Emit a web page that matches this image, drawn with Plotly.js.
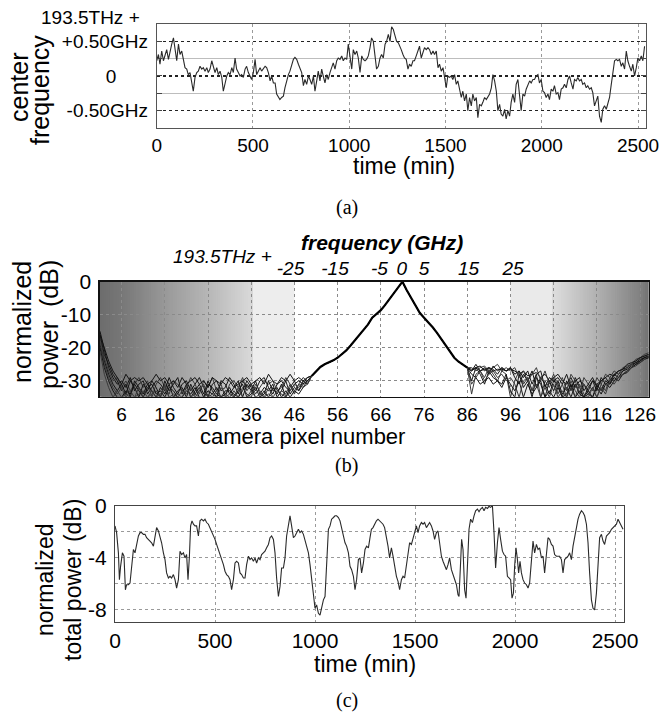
<!DOCTYPE html>
<html>
<head>
<meta charset="utf-8">
<script src="https://cdn.plot.ly/plotly-3.0.1.min.js"></script>
<style>html,body{margin:0;padding:0;background:#fff;}#chart{width:664px;height:717px;}</style>
</head>
<body>
<div id="chart"></div>
<script>
// ---------- (a) center frequency vs time ----------
const timeA = [0,9,17,26,35,43,52,61,69,78,
87,95,104,113,121,130,138,147,156,164,
173,182,190,199,208,216,225,234,242,251,
260,268,277,286,294,303,312,320,329,338,
346,355,364,372,381,390,398,407,415,424,
433,441,450,459,467,476,485,493,502,511,
519,528,537,545,554,563,571,580,589,597,
606,615,623,632,640,649,658,666,675,684,
692,701,710,718,727,736,744,753,762,770,
779,788,796,805,814,822,831,839,848,857,
865,874,883,891,900,909,917,926,935,943,
952,961,969,978,987,995,1004,1013,1021,1030,
1039,1047,1056,1065,1073,1082,1090,1099,1108,1116,
1125,1134,1142,1151,1160,1168,1177,1186,1194,1203,
1212,1220,1229,1238,1246,1255,1264,
1270,1279,1287,1296,1305,1313,1322,1331,1339,1348,
1357,1365,1374,1383,1391,1400,1409,1417,1426,1435,
1443,1452,1461,1469,1478,1487,1495,1504,1512,1521,
1530,1538,1547,1556,1564,1573,1582,1590,1599,1608,
1616,1625,1634,1642,1651,1660,1668,1677,1686,1694,
1703,1712,1720,1729,1738,1746,1755,1764,1772,1781,
1789,1798,1807,1815,1824,1833,1841,1850,1859,1867,
1876,1885,1893,1902,1911,1919,1928,1937,1945,1954,
1962,1971,1980,1988,1997,2006,2014,2023,2032,2040,
2049,2058,2066,2075,2084,2092,2101,2110,2118,2127,
2136,2144,2153,2162,2170,2179,2187,2196,2205,2213,
2222,2231,2239,2248,2257,2265,2274,2283,2291,2300,
2309,2317,2326,2335,2343,2352,2361,2369,2378,2387,
2395,2404,2413,2421,2430,2439,2447,2456,2465,2473,
2482,2491,2499,2508,2517,2525,2534];
const centerFreqGHz = [0.22,0.31,0.17,0.36,0.22,0.29,0.38,0.24,0.36,0.46,
0.55,0.41,0.22,0.46,0.31,0.36,0.22,0.12,0.10,0.02,
0.05,-0.07,-0.22,-0.02,0.05,0.07,0.14,0.10,0.12,0.07,
0.12,0.05,0.10,0.22,0.14,0.05,0.12,0.02,0.07,-0.02,
-0.22,-0.10,0,0.05,0.02,0.12,0.05,0.26,0.10,0.05,
0,0.02,-0.02,0.10,0.14,0.05,0,-0.05,0.05,0.24,
0.02,0.07,0.12,0.07,0.10,0.14,0.12,0.05,-0.07,0,
-0.10,-0.10,-0.26,-0.31,-0.34,-0.31,-0.29,-0.17,-0.05,0.02,
0.07,0.17,0.24,0.27,0.24,0.17,0.12,0.05,-0.14,-0.05,
-0.12,0,-0.05,-0.12,0,-0.22,-0.07,0.07,-0.07,0.10,
0,-0.10,0.02,-0.05,0.05,0.12,0.19,0.10,0.22,0.26,
0.24,0.29,0.22,0.26,0.24,0.46,0.31,0.10,0.38,0.31,
0.36,0.26,0.05,0.29,0.24,0.22,0.24,0.29,0.41,0.55,
0.50,0.26,0.10,0.14,0.26,0.31,0.26,0.46,0.50,0.60,
0.50,0.71,0.67,0.58,0.50,0.48,0.43,
0.38,0.31,0.26,0.24,0.10,0.17,0.14,0.22,0.22,0.29,
0.36,0.43,0.26,0.36,0.41,0.38,0.41,0.38,0.31,0.36,
0.31,0.36,0.12,0.17,0.07,0.12,0,-0.17,0,-0.02,
0,-0.05,0.02,-0.12,-0.07,-0.22,-0.31,-0.22,-0.36,-0.26,
-0.50,-0.31,-0.43,-0.26,-0.36,-0.31,-0.60,-0.41,-0.43,-0.38,
-0.31,-0.34,-0.29,-0.26,-0.17,0.02,-0.07,-0.22,-0.50,-0.41,
-0.55,-0.58,-0.48,-0.62,-0.50,-0.58,-0.38,-0.26,-0.38,-0.12,
-0.05,-0.29,-0.50,-0.26,-0.29,-0.19,-0.14,-0.07,-0.10,-0.05,
-0.05,0,0.02,-0.10,-0.05,-0.22,-0.24,-0.31,-0.26,-0.34,
-0.19,-0.22,-0.14,-0.26,-0.24,-0.34,-0.19,-0.17,-0.12,-0.17,
-0.05,0,-0.10,-0.19,-0.05,-0.07,-0.02,-0.07,-0.05,-0.12,
-0.10,-0.17,-0.14,-0.19,-0.17,-0.24,-0.43,-0.36,-0.29,-0.58,
-0.67,-0.48,-0.43,-0.48,-0.41,-0.31,-0.12,0.02,0.22,0.24,
0.22,0.24,0.14,0.19,0.10,0.36,0.22,0.14,0.07,0.17,
0,0.12,0.26,0.22,0.29,0.22,0.43];

// ---------- (b) spectra vs camera pixel ----------
const cameraPixel = [1,2,3,4,5,6,7,8,9,10,11,12,13,14,15,16,17,18,19,20,
21,22,23,24,25,26,27,28,29,30,31,32,33,34,35,36,37,38,39,40,
41,42,43,44,45,46,47,48,49,50,51,52,53,54,55,56,57,58,59,60,
61,62,63,64,65,66,67,68,69,70,71,72,73,74,75,76,77,78,79,80,
81,82,83,84,85,86,87,88,89,90,91,92,93,94,95,96,97,98,99,100,
101,102,103,104,105,106,107,108,109,110,111,112,113,114,115,116,117,118,119,120,
121,122,123,124,125,126,127,128];
const pixelTicks = [6,16,26,36,46,56,66,76,86,96,106,116,126];
const freqTicks = [-25,-15,-5,0,5,15,25];
const freqTickText = ['-25','-15','-5','0','5','15','25'];
const powerTicks = [0,-10,-20,-30];
const powerTickText = ['0','-10','-20','-30'];
// left floor, pixels 1..49
const leftFloor = [
[-15,-21,-26,-29,-31,-30,-32,-29,-33,-31, -30,-34,-32,-30,-31,-33,-29,-32,-34,-31, -30,-33,-31,-29,-32,-35,-31,-30,-33,-32, -29,-31,-34,-30,-32,-31,-33,-30,-29,-32, -34,-31,-30,-32,-33,-31,-30,-31,-29],
[-17,-23,-27,-30,-29,-32,-30,-33,-31,-29, -32,-30,-35,-31,-29,-32,-34,-30,-31,-33, -32,-29,-31,-34,-30,-32,-29,-33,-31,-35, -31,-30,-32,-29,-33,-31,-34,-32,-30,-31, -30,-33,-32,-29,-31,-34,-31,-29,-30],
[-19,-24,-28,-31,-33,-31,-34,-30,-32,-35, -31,-33,-30,-32,-35,-30,-33,-31,-29,-34, -31,-35,-33,-31,-34,-30,-33,-35,-30,-31, -34,-32,-30,-35,-31,-33,-30,-34,-32,-33, -31,-35,-33,-30,-34,-32,-33,-30,-31],
[-16,-22,-25,-28,-30,-33,-31,-35,-30,-32, -34,-31,-33,-35,-32,-34,-31,-35,-33,-32, -35,-31,-34,-32,-35,-33,-34,-32,-35,-34, -32,-35,-33,-31,-35,-34,-32,-35,-33,-35, -32,-34,-31,-35,-32,-30,-33,-31,-30],
[-18,-25,-29,-32,-34,-32,-35,-33,-35,-34, -33,-35,-34,-33,-35,-31,-35,-34,-35,-33, -34,-32,-35,-33,-31,-35,-34,-35,-32,-34, -35,-33,-35,-32,-34,-35,-31,-33,-35,-34, -35,-33,-34,-35,-33,-31,-32,-30,-31],
[-20,-26,-30,-33,-35,-35,-33,-34,-31,-33, -35,-32,-31,-34,-33,-35,-32,-33,-35,-35, -33,-34,-32,-35,-35,-31,-32,-34,-35,-33, -33,-34,-35,-33,-30,-32,-35,-35,-34,-30, -33,-32,-35,-33,-35,-33,-34,-32,-30],
[-16,-20,-24,-27,-29,-31,-28,-30,-29,-30, -29,-31,-30,-28,-30,-29,-31,-30,-32,-29, -31,-30,-29,-31,-30,-32,-29,-30,-31,-29, -30,-32,-31,-30,-29,-31,-30,-29,-31,-28, -30,-31,-29,-30,-28,-30,-29,-30,-29],
[-21,-28,-32,-35,-33,-35,-34,-35,-35,-32, -35,-35,-33,-35,-34,-32,-35,-35,-34,-35, -32,-35,-34,-35,-35,-34,-35,-33,-35,-35, -34,-35,-32,-35,-35,-33,-35,-34,-35,-32, -35,-35,-33,-34,-31,-33,-31,-32,-31]
];
// common peak, pixels 50..86
const peakPixel = [50,51,52,53,54,55,56,57,58,59,60,61,62,63,64,65,66,67,68,69,70,
71,72,73,74,75,76,77,78,79,80,81,82,83,84,85,86];
const peakCenter = [-28.5,-27,-25.8,-25,-24.5,-23.8,-23,-22,-20.8,-19.3,
-17.8,-16.2,-14.6,-13,-10.9,-9.8,-8.6,-7.0,-5.3,-3.6,
-1.8,0,-2.6,-5,-7.4,-9.4,-10.9,-12.3,-13.8,-15.5,
-17.3,-19.2,-21.2,-23,-24.2,-25.2,-26];
// right floor, pixels 87..128
const rightFloor = [
[-26.5,-26,-27,-26.5,-26,-27,-26.5,-26.5,-27,-26.5, -27,-28,-27,-28.5,-28,-27.5,-29,-28,-30,-29, -28,-30,-31,-29,-32,-30,-31,-33,-30,-31, -30,-29,-28,-28.5,-27,-26.5,-26,-25,-24.5,-23.5, -23,-22.5],
[-34,-28,-27,-29,-26,-28,-30,-27,-28,-35, -30,-27,-31,-29,-33,-28,-35,-30,-32,-29, -34,-31,-35,-30,-33,-35,-31,-34,-32,-35, -31,-33,-29,-30,-28,-27,-26,-25,-24,-23, -22.5,-22],
[-27,-25,-27,-26,-28,-25.5,-27,-26,-27,-26, -29,-31,-28,-30,-27,-32,-29,-31,-34,-30, -31,-35,-30,-33,-29,-32,-35,-32,-30,-33, -29,-31,-30,-28,-29,-27,-26.5,-25.5,-24.5,-24, -23,-23],
[-30,-26,-28,-31,-27,-29,-30,-31,-28,-33, -35,-28,-32,-30,-35,-29,-31,-35,-30,-33, -30,-34,-32,-35,-31,-34,-35,-33,-35,-31, -33,-30,-31,-29,-30,-28,-27,-26,-25,-24.5, -23.5,-23],
[-26,-27,-26,-25.5,-27,-26,-25,-27,-26,-27, -26,-29,-27,-30,-28,-26,-30,-27,-31,-28, -32,-29,-33,-28,-30,-34,-29,-31,-33,-29, -31,-28,-29,-27,-28,-26,-25.5,-25,-23.5,-23, -22,-21.5],
[-28,-29,-31,-30,-29,-31,-30,-32,-29,-31, -33,-30,-35,-31,-34,-32,-30,-35,-33,-35, -32,-35,-34,-31,-35,-33,-35,-34,-35,-32, -34,-31,-32,-30,-29,-28,-27.5,-26,-25,-24, -23,-22.5],
[-27,-26,-25.5,-27,-26,-26.5,-28,-26,-27,-26, -28,-27,-29,-27,-31,-28,-27,-32,-29,-30, -29,-31,-28,-32,-30,-29,-33,-31,-29,-32, -30,-29,-31,-28,-27,-26.5,-25,-24.5,-24,-23, -22.5,-22],
[-31,-29,-27,-30,-28,-27,-29,-28,-30,-29, -31,-35,-30,-29,-33,-31,-35,-32,-35,-31, -35,-33,-35,-32,-35,-31,-34,-35,-32,-35, -32,-34,-30,-31,-29,-28,-27,-26,-25.5,-24.5, -23.5,-22.5]
];

// ---------- (c) total power vs time ----------
const timeC = [0,8,17,22,28,37,45,52,58,67,
75,83,92,100,108,117,125,133,142,150,
158,167,175,183,192,200,208,217,225,233,
242,250,258,267,275,283,292,300,308,317,
325,333,342,350,358,365,372,378,385,392,
400,408,417,425,433,442,450,458,467,475,
483,492,500,508,517,525,533,542,550,558,
567,575,583,592,600,608,617,625,633,642,
650,658,667,675,683,692,700,708,717,725,
733,742,750,758,767,775,783,792,800,808,
817,825,833,842,850,858,867,875,883,892,
900,908,917,925,933,942,950,958,967,975,
983,992,1000,1008,1017,1025,1033,1042,1050,1058,
1067,1075,1083,1092,1100,1108,1117,1125,1133,1142,
1150,1158,1167,1175,1183,1192,1200,1208,1217,1225,
1233,1242,1250,1258,1267,1275,
1282,1290,1298,1307,1315,1323,1332,1340,1348,1357,
1365,1373,1382,1390,1398,1407,1415,1423,1432,1440,
1448,1457,1465,1473,1482,1490,1498,1507,1515,1523,
1532,1540,1548,1557,1565,1573,1582,1590,1598,1607,
1615,1623,1632,1640,1648,1657,1665,1673,1682,1690,
1698,1707,1715,1720,1727,1733,1740,1748,1755,1762,
1770,1778,1787,1795,1803,1812,1820,1828,1837,1845,
1853,1862,1870,1878,1887,1895,1903,1912,1920,1928,
1937,1945,1953,1962,1970,1978,1985,1992,1998,2005,
2012,2018,2025,2032,2040,2048,2057,2065,2073,2082,
2090,2098,2107,2115,2123,2132,2140,2148,2157,2165,
2173,2182,2190,2198,2207,2215,2223,2232,2240,2248,
2257,2265,2273,2282,2290,2298,2307,2315,2323,2332,
2340,2348,2357,2365,2373,2382,2390,2398,2407,2415,
2423,2432,2440,2448,2457,2465,2473,2482,2490,2498,
2507,2515,2523,2532,2540];
const totalPowerDB = [-1.56,-2.08,-3.64,-5.71,-4.68,-3.64,-3.90,-6.49,-6.10,-6.10,
-5.97,-4.68,-3.38,-3.64,-2.86,-2.34,-2.08,-2.08,-2.21,-2.21,
-2.47,-2.60,-2.73,-2.86,-3.12,-2.34,-1.69,-1.95,-2.34,-2.86,
-3.64,-4.16,-5.19,-5.58,-5.45,-5.58,-5.32,-5.71,-6.36,-5.71,
-3.51,-3.77,-3.64,-4.03,-3.77,-5.71,-3.90,-1.56,-1.17,-1.43,
-1.56,-1.56,-2.34,-1.17,-1.04,-1.17,-1.04,-1.30,-1.43,-1.69,
-2.08,-2.34,-2.60,-2.99,-3.38,-3.77,-4.16,-4.55,-5.06,-5.32,
-5.45,-5.71,-6.49,-5.71,-4.42,-4.29,-4.42,-5.19,-5.32,-5.58,
-5.58,-4.55,-3.90,-4.16,-4.03,-4.29,-4.03,-4.42,-4.03,-4.16,
-3.77,-3.64,-3.51,-3.25,-2.99,-2.47,-2.34,-2.60,-3.64,-5.58,
-7.01,-6.23,-4.81,-4.81,-4.03,-2.34,-1.56,-0.78,-1.56,-2.47,
-2.34,-2.08,-1.82,-2.08,-1.95,-2.21,-2.73,-3.12,-3.64,-4.55,
-5.71,-7.27,-7.92,-7.66,-8.31,-8.44,-7.79,-7.27,-7.01,-4.68,
-1.82,-1.56,-1.04,-0.91,-0.78,-0.78,-0.91,-1.17,-1.69,-2.34,
-2.86,-3.12,-3.64,-4.68,-4.94,-5.45,-6.49,-5.71,-4.16,-4.03,
-5.19,-4.42,-3.38,-3.12,-3.25,-2.47,
-1.82,-1.69,-1.43,-1.17,-1.04,-1.17,-1.30,-1.43,-1.69,-2.34,
-3.12,-4.03,-3.25,-3.90,-4.68,-5.45,-5.84,-6.49,-5.71,-5.45,
-5.58,-4.68,-3.64,-2.86,-2.99,-2.60,-2.08,-1.56,-2.08,-1.56,
-1.30,-1.43,-1.30,-1.69,-1.43,-1.30,-1.56,-1.95,-2.60,-2.08,
-1.95,-3.12,-3.90,-4.29,-4.55,-4.94,-4.55,-4.03,-4.94,-5.32,
-5.71,-6.10,-6.88,-7.01,-4.68,-2.60,-3.38,-6.49,-7.14,-4.68,
-1.82,-1.04,-1.30,-0.78,-0.39,-0.26,-0.47,-0.26,-0.13,-0.39,
-0.13,-0.21,-0.05,-0.13,0,-2.08,-4.81,-2.86,-1.69,-2.60,
-3.51,-3.77,-3.90,-5.45,-5.58,-5.71,-7.14,-6.75,-4.68,-3.25,
-4.16,-5.19,-4.29,-5.19,-5.71,-5.97,-6.10,-6.36,-5.97,-4.03,
-2.73,-3.64,-2.99,-3.38,-3.25,-4.03,-3.90,-5.19,-3.64,-2.47,
-2.60,-2.99,-3.12,-3.77,-3.90,-3.90,-3.90,-4.16,-5.19,-4.16,
-4.03,-3.90,-3.64,-4.16,-3.12,-2.34,-1.56,-1.04,-0.65,-0.39,
-0.52,-0.78,-1.43,-2.86,-5.19,-7.27,-7.92,-8.05,-6.75,-4.42,
-2.47,-2.21,-2.73,-2.99,-2.34,-2.21,-2.08,-1.82,-1.69,-1.56,
-1.43,-1.04,-1.30,-1.56,-1.82];
const timeTicks = [0,500,1000,1500,2000,2500];
const totalTicks = [0,-4,-8];
const totalTickText = ['0','-4','-8'];

// ---------- layout helpers ----------
const W = 664, H = 717;
const FONT = 'Liberation Sans, Arial, Helvetica, sans-serif';
const SERIF = 'Liberation Serif, Times New Roman, serif';
const px = v => v / W;
const py = v => 1 - v / H;

function ann(text, x, y, size, extra) {
  return Object.assign({
    text: text, xref: 'paper', yref: 'paper', x: px(x), y: py(y),
    xanchor: 'center', yanchor: 'middle', showarrow: false,
    font: {family: FONT, size: size, color: '#000'}
  }, extra || {});
}

const traces = [];
traces.push({
  type: 'scatter', mode: 'lines', x: timeA, y: centerFreqGHz,
  xaxis: 'x', yaxis: 'y', line: {color: '#2a2a2a', width: 1.1},
  hoverinfo: 'skip', showlegend: false
});
for (let i = 0; i < leftFloor.length; i++) {
  traces.push({
    type: 'scatter', mode: 'lines', x: cameraPixel,
    y: leftFloor[i].concat(peakCenter, rightFloor[i]),
    xaxis: 'x2', yaxis: 'y2',
    line: {color: i % 3 === 1 ? '#3a3a3a' : '#141414', width: 1},
    hoverinfo: 'skip', showlegend: false
  });
}
// overlapping spectra make the common peak a heavy line
traces.push({
  type: 'scatter', mode: 'lines', x: peakPixel, y: peakCenter,
  xaxis: 'x2', yaxis: 'y2', line: {color: '#000', width: 2.2},
  hoverinfo: 'skip', showlegend: false
});
// carrier for the top frequency axis (no visible marks)
traces.push({
  type: 'scatter', mode: 'markers', x: freqTicks, y: freqTicks.map(() => null),
  xaxis: 'x3', yaxis: 'y2', marker: {opacity: 0},
  hoverinfo: 'skip', showlegend: false
});
traces.push({
  type: 'scatter', mode: 'lines', x: timeC, y: totalPowerDB,
  xaxis: 'x4', yaxis: 'y4', line: {color: '#2a2a2a', width: 1.1},
  hoverinfo: 'skip', showlegend: false
});

// gray gradient bands behind the spectra (styling only)
const shapes = [];
function grayAt(stops, p) {
  for (let k = 0; k < stops.length - 1; k++) {
    const a = stops[k], b = stops[k + 1];
    if (p >= a[0] && p <= b[0]) return a[1] + (b[1] - a[1]) * (p - a[0]) / (b[0] - a[0]);
  }
  return stops[stops.length - 1][1];
}
const leftStops = [[1, 108], [6, 118], [16, 152], [26, 182], [36, 216]];
const rightStops = [[106, 220], [116, 176], [126, 128], [128, 112]];
function band(x0, x1, g) {
  const c = Math.round(g);
  const col = 'rgb(' + c + ',' + c + ',' + c + ')';
  shapes.push({type: 'rect', xref: 'x2', yref: 'y2 domain', x0: x0, x1: x1, y0: 0, y1: 1,
    layer: 'below', line: {width: 0, color: col}, fillcolor: col});
}
band(36, 46, 237);
band(96, 106.3, 234);
for (let p = 1; p < 36; p += 0.5) band(p - 0.2, p + 0.9, grayAt(leftStops, p + 0.25));
for (let p = 127.5; p >= 106; p -= 0.5) band(p - 0.4, p + 0.7, grayAt(rightStops, p + 0.25));

const tickFont = s => ({family: FONT, size: s, color: '#000'});

const layout = {
  width: W, height: H,
  margin: {l: 0, r: 0, t: 0, b: 0},
  paper_bgcolor: '#fff', plot_bgcolor: '#fff',
  showlegend: false,
  font: {family: FONT, color: '#000'},
  shapes: shapes,
  // (a)
  xaxis: {domain: [0.236, 0.9725], anchor: 'y', range: [0, 2540],
    tickvals: timeTicks, ticks: '', tickfont: tickFont(19),
    ticklabelstandoff: 0,
    showgrid: true, gridcolor: '#9a9a9a', griddash: 'dot', gridwidth: 1, zeroline: false,
    showline: true, linecolor: '#555', linewidth: 1, mirror: true},
  yaxis: {domain: [0.8215, 0.9665], anchor: 'x', range: [-0.75, 0.75],
    tickvals: [-0.5, 0, 0.5], ticktext: ['-0.50GHz', '0\u00a0\u00a0\u00a0\u00a0\u00a0\u00a0', '+0.50GHz'],
    tickfont: tickFont(19), ticks: 'inside', ticklen: 5, tickcolor: '#444',
    ticklabelstandoff: 4,
    showgrid: true, gridcolor: '#222', griddash: 'dot', gridwidth: 1.2, zeroline: false,
    minor: {tickvals: [-0.25, 0.25], showgrid: true, gridcolor: '#bdbdbd', griddash: 'solid', ticks: 'inside', ticklen: 5, tickcolor: '#444'},
    showline: true, linecolor: '#555', linewidth: 1, mirror: 'allticks'},
  // (b)
  xaxis2: {domain: [0.1506, 0.977], anchor: 'y2', range: [1, 128],
    tickvals: pixelTicks, ticks: '', tickfont: tickFont(19), ticklabelstandoff: 0,
    showgrid: true, gridcolor: '#8a8a8a', griddash: 'dot', zeroline: false,
    showline: true, linecolor: '#111', linewidth: 1.6, mirror: true},
  xaxis3: {overlaying: 'x2', anchor: 'y2', side: 'top', range: [-67.8, 55.5],
    tickvals: freqTicks, ticktext: freqTickText, ticks: '', ticklabelstandoff: 2,
    tickfont: {family: FONT, size: 19, color: '#000', style: 'italic'},
    showgrid: false, zeroline: false, showline: false},
  yaxis2: {domain: [0.4467, 0.6071], anchor: 'x2', range: [-34.8, 0],
    tickvals: powerTicks, ticktext: powerTickText, ticks: '', tickfont: tickFont(21), ticklabelstandoff: 3,
    showgrid: true, gridcolor: '#8a8a8a', griddash: 'dot', zeroline: false,
    showline: true, linecolor: '#111', linewidth: 1.6, mirror: true},
  // (c)
  xaxis4: {domain: [0.1732, 0.9398], anchor: 'y4', range: [0, 2545],
    tickvals: timeTicks, ticks: '', tickfont: tickFont(21),
    ticklabelstandoff: 0,
    showgrid: true, gridcolor: '#9a9a9a', griddash: 'dot', zeroline: false,
    showline: true, linecolor: '#444', linewidth: 1, mirror: true},
  yaxis4: {domain: [0.1321, 0.2947], anchor: 'x4', range: [-9, 0],
    tickvals: totalTicks, ticktext: totalTickText, ticks: '', tickfont: tickFont(21), ticklabelstandoff: 3,
    showgrid: true, gridcolor: '#9a9a9a', griddash: 'dot', zeroline: false,
    minor: {tickvals: [-2, -6], showgrid: true, gridcolor: '#9a9a9a', griddash: 'dot'},
    showline: true, linecolor: '#444', linewidth: 1, mirror: true},
  annotations: [
    // (a)
    ann('193.5THz +', 90, 17, 19),
    ann('center', 19, 88, 25, {textangle: -90}),
    ann('frequency', 40, 90, 25, {textangle: -90}),
    ann('time (min)', 404, 166, 23),
    ann('(a)', 347, 207, 20, {font: {family: SERIF, size: 20, color: '#000'}}),
    // (b)
    ann('<i>193.5THz +</i>', 222, 256, 19),
    ann('<b><i>frequency (GHz)</i></b>', 382, 243, 21),
    ann('normalized', 22, 322, 25, {textangle: -90}),
    ann('power\u00a0\u00a0(dB)', 49, 325, 25, {textangle: -90}),
    ann('camera pixel number', 302, 436, 22),
    ann('(b)', 347, 465, 20, {font: {family: SERIF, size: 20, color: '#000'}}),
    // (c)
    ann('normalized', 45, 580, 23, {textangle: -90}),
    ann('total power (dB)', 73, 580, 23, {textangle: -90}),
    ann('time (min)', 365, 664, 23),
    ann('(c)', 347, 700, 20, {font: {family: SERIF, size: 20, color: '#000'}})
  ]
};

Plotly.newPlot('chart', traces, layout, {staticPlot: true, displayModeBar: false});
</script>
</body>
</html>
